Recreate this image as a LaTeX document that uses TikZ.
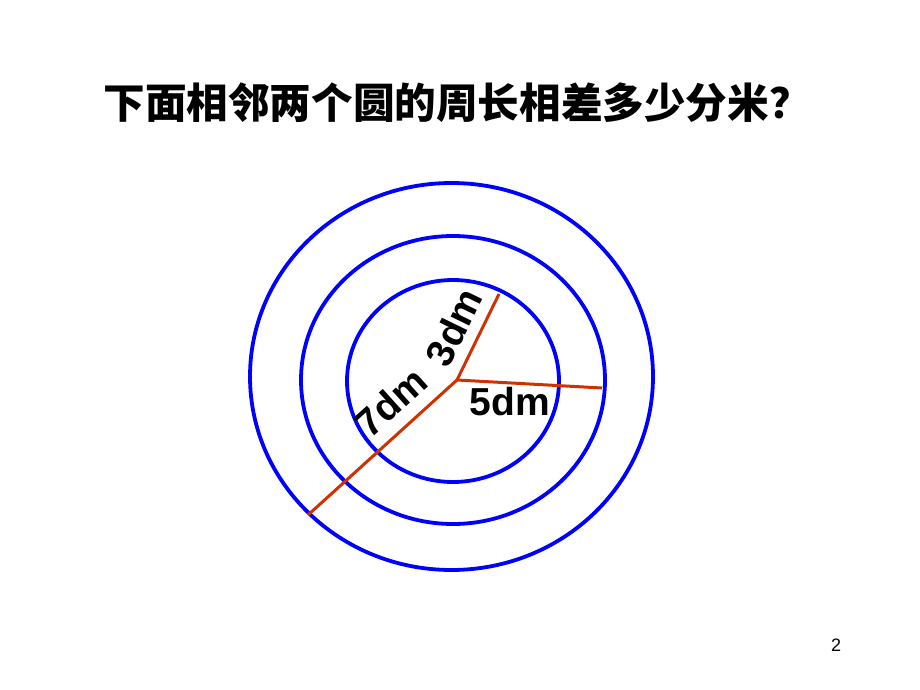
\documentclass[tikz,border=0pt]{standalone}
\usepackage{fontspec}
\setmainfont{Liberation Sans}
\newfontfamily\cjk{Noto Sans CJK SC}[BoldFont={* Black}]
\begin{document}
\begin{tikzpicture}[x=1pt,y=-1pt,
  ring/.style={draw={rgb,255:red,0;green,0;blue,255}, line width=3.8pt},
  radius line/.style={draw={rgb,255:red,204;green,51;blue,0}, line width=3pt},
  lbl/.style={font=\fontsize{39}{39}\selectfont\bfseries, inner sep=0pt}]
\useasboundingbox (0,0) rectangle (920,690);
\node[font=\cjk\bfseries\fontsize{41.6}{41.6}\selectfont, inner sep=0pt] (title) at (457,103) {下面相邻两个圆的周长相差多少分米？};
\draw[ring] (451.5,376.5) ellipse [x radius=201.5, y radius=193.5];
\draw[ring] (453,380) ellipse [x radius=152, y radius=144];
\draw[ring] (453,381) ellipse [x radius=106, y radius=101];
\coordinate (c) at (457,380);
\coordinate (a) at (499,294);
\coordinate (b) at (602,388);
\coordinate (d) at (308,515);
\draw[radius line] (c) -- (a);
\draw[radius line] (c) -- (b);
\draw[radius line] (c) -- (d);
\node[lbl, rotate=64] (l3) at (454,327) {3dm};
\node[lbl, rotate=42] (l7) at (391,402) {7dm};
\node[lbl] (l5) at (510,402) {5dm};
\node[font=\fontsize{18}{18}\selectfont, inner sep=0pt] (pg) at (836,645) {2};
\end{tikzpicture}
\end{document}
